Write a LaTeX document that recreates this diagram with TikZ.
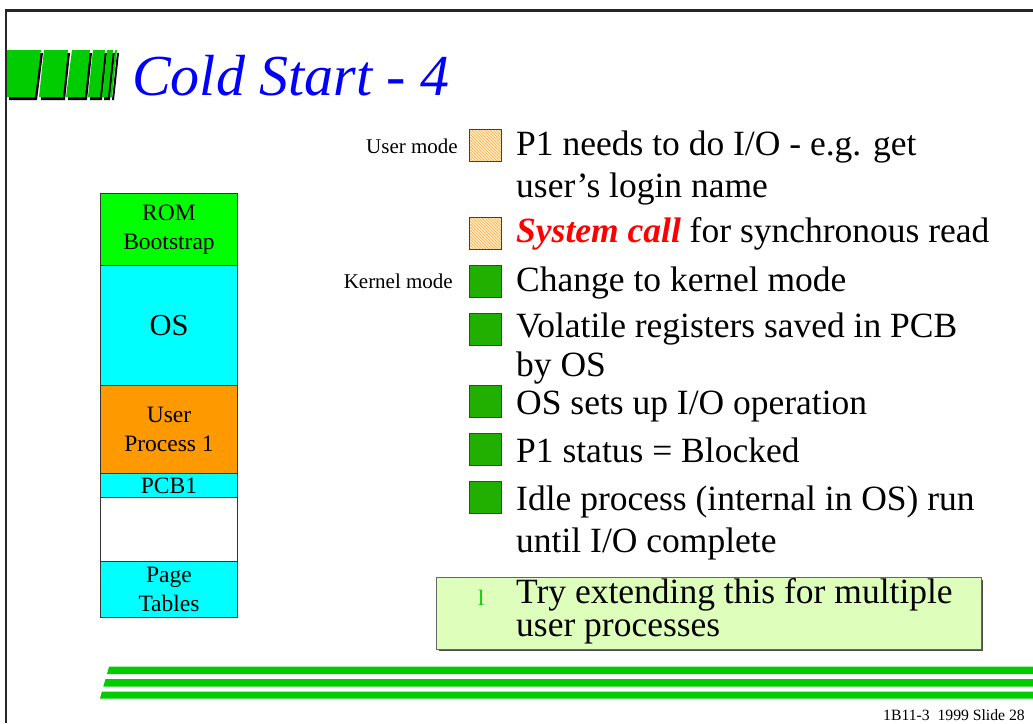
\documentclass[tikz,border=0pt]{standalone}
\usepackage{fontspec}
\setmainfont{Liberation Serif}
\usetikzlibrary{patterns}
\definecolor{titleblue}{RGB}{0,0,255}
\definecolor{bargreen}{RGB}{0,204,0}
\definecolor{bulgreen}{RGB}{34,176,0}
\definecolor{romgreen}{RGB}{0,255,0}
\definecolor{oscyan}{RGB}{0,255,255}
\definecolor{uporange}{RGB}{255,153,0}
\definecolor{notegreen}{RGB}{221,255,187}
\definecolor{hatchbg}{RGB}{255,238,205}
\definecolor{hatchfg}{RGB}{255,170,51}
\definecolor{callred}{RGB}{255,0,0}
\begin{document}
\begin{tikzpicture}[x=1pt,y=-1pt,
  memcell/.style={draw=black!80, line width=1pt, inner sep=0pt, anchor=north west,
    minimum width=137pt, align=center, font=\fontsize{23.5}{29}\selectfont},
  bodytext/.style={anchor=base west, inner sep=0pt, font=\fontsize{35.5}{43}\selectfont},
  modelabel/.style={anchor=base east, inner sep=0pt, font=\fontsize{21}{25}\selectfont},
  kbox/.style={draw=black!75, line width=1pt, fill=bulgreen, minimum size=32pt, inner sep=0pt},
  ubox/.style={draw=black!75, line width=1pt, preaction={fill=hatchbg},
    pattern=north west lines, pattern color=hatchfg, minimum size=32pt, inner sep=0pt},
  tbar/.style={fill=bargreen},
  tshadow/.style={fill=black}]
\useasboundingbox (0,0) rectangle (1033,723);
\fill[white] (0,0) rectangle (1033,723);
% frame
\draw[line width=2.5pt, black!85] (6,723) -- (6,10.5) -- (1033,10.5);
% title bars (shadows then green)
\begin{scope}[shift={(2,3)}]
\fill[tshadow] (7,50) -- (41,50) -- (35,97) -- (7,97) -- cycle;
\fill[tshadow] (44,50) -- (68,50) -- (63,97) -- (39,97) -- cycle;
\fill[tshadow] (72,50) -- (90,50) -- (85,97) -- (66,97) -- cycle;
\fill[tshadow] (93,50) -- (105,50) -- (100,97) -- (88,97) -- cycle;
\fill[tshadow] (107,50) -- (113,50) -- (108,97) -- (102,97) -- cycle;
\fill[tshadow] (115,50) -- (117,50) -- (112,97) -- (110,97) -- cycle;
\end{scope}
\fill[tbar] (7,50) -- (41,50) -- (35,97) -- (7,97) -- cycle;
\fill[tbar] (44,50) -- (68,50) -- (63,97) -- (39,97) -- cycle;
\fill[tbar] (72,50) -- (90,50) -- (85,97) -- (66,97) -- cycle;
\fill[tbar] (93,50) -- (105,50) -- (100,97) -- (88,97) -- cycle;
\fill[tbar] (107,50) -- (113,50) -- (108,97) -- (102,97) -- cycle;
\fill[tbar] (115,50) -- (117,50) -- (112,97) -- (110,97) -- cycle;
% title
\node[anchor=base west, inner sep=0pt, text=titleblue, font=\fontsize{58}{64}\selectfont\itshape] (title) at (132,95) {Cold Start - 4};
% memory map
\node[memcell, fill=romgreen, minimum height=72pt] (rom) at (100,193) {ROM\\Bootstrap};
\node[memcell, fill=oscyan, minimum height=120pt, font=\fontsize{30.5}{34}\selectfont] (os) at (100,265) {OS};
\node[memcell, fill=uporange, minimum height=88pt] (up) at (100,385) {User\\Process 1};
\node[memcell, fill=oscyan, minimum height=24pt] (pcb) at (100,473) {PCB1};
\node[memcell, fill=white, minimum height=64pt] (free) at (100,497) {};
\node[memcell, fill=oscyan, minimum height=56pt] (pt) at (100,561) {Page\\Tables};
% mode labels
\node[modelabel] (umode) at (458,153) {User mode};
\node[modelabel] (kmode) at (453,288) {Kernel mode};
% bullets
\node[ubox] (b1) at (485,145.5) {};
\node[ubox] (b2) at (485,233) {};
\node[kbox] (b3) at (485,281) {};
\node[kbox] (b4) at (485,329) {};
\node[kbox] (b5) at (485,401) {};
\node[kbox] (b6) at (485,449) {};
\node[kbox] (b7) at (485,497.5) {};
% bullet texts
\node[bodytext] (t1a) at (516,155) {P1 needs to do I/O - e.g. get};
\node[bodytext] (t1b) at (516,197) {user’s login name};
\node[bodytext] (t2) at (516,242) {{\color{callred}\bfseries\itshape System call} for synchronous read};
\node[bodytext] (t3) at (516,291) {Change to kernel mode};
\node[bodytext] (t4a) at (516,337) {Volatile registers saved in PCB};
\node[bodytext] (t4b) at (516,376) {by OS};
\node[bodytext] (t5) at (516,414) {OS sets up I/O operation};
\node[bodytext] (t6) at (516,462) {P1 status = Blocked};
\node[bodytext] (t7a) at (516,510) {Idle process (internal in OS) run};
\node[bodytext] (t7b) at (516,552) {until I/O complete};
% note box
\fill[black!70] (438.5,579.5) rectangle (983,651);
\node[draw=black!60, line width=0.8pt, fill=notegreen, anchor=north west, inner sep=0pt,
  minimum width=545pt, minimum height=72pt] (note) at (436,577) {};
\node[anchor=base west, inner sep=0pt, text=bargreen, font=\fontsize{22}{24}\selectfont] (nb) at (478,605) {l};
\node[bodytext, font=\fontsize{35.5}{40}\selectfont] (n1) at (516,603) {Try extending this for multiple};
\node[bodytext, font=\fontsize{35.5}{40}\selectfont] (n2) at (516,636) {user processes};
% bottom bars
\fill[bargreen] (109.1,666.5) -- (1033,666.5) -- (1033,674) -- (107,674) -- cycle;
\fill[bargreen] (105.5,679) -- (1033,679) -- (1033,686.5) -- (103.3,686.5) -- cycle;
\fill[bargreen] (101.9,691.5) -- (1033,691.5) -- (1033,698.5) -- (100,698.5) -- cycle;
% footer
\node[anchor=base east, inner sep=0pt, font=\fontsize{15.7}{18}\selectfont] (foot) at (1025,720) {1B11-3\ \ 1999 Slide 28};
\end{tikzpicture}
\end{document}
